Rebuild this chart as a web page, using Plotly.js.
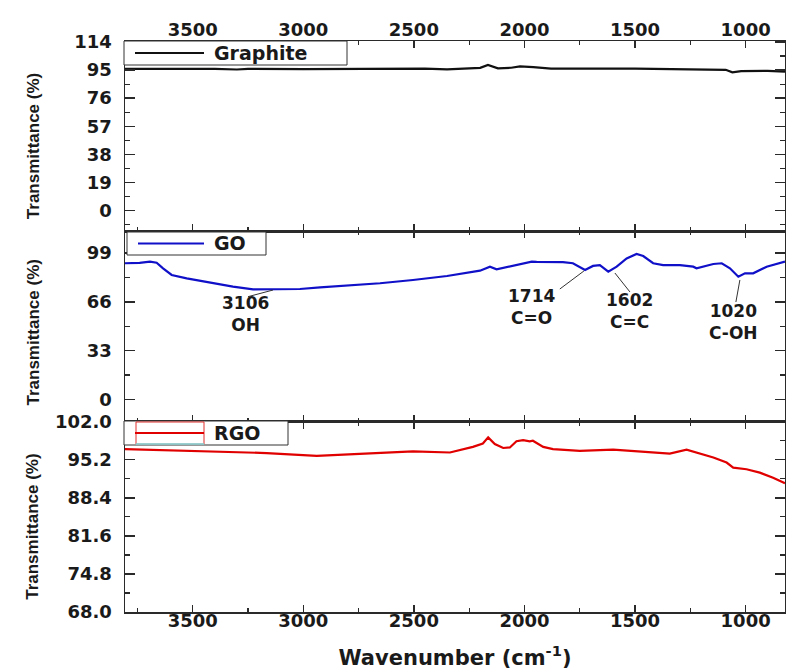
<!DOCTYPE html>
<html>
<head>
<meta charset="utf-8">
<script src="https://cdn.plot.ly/plotly-3.0.1.min.js"></script>
<style>
html, body { margin: 0; padding: 0; background: #fff; }
#chart { width: 786px; height: 670px; }
</style>
</head>
<body>
<div id="chart"></div>
<script>
// ---- Data ----
var graphiteWn = [3806, 3550, 3400, 3300, 3250, 3000, 2700, 2450, 2350, 2250, 2200, 2165, 2120, 2060, 2020, 1960, 1880, 1500, 1320, 1200, 1090, 1060, 1020, 900, 822];
var graphiteT  = [95.8, 96.0, 95.9, 95.4, 95.8, 95.7, 96.0, 96.0, 95.5, 96.0, 96.5, 98.5, 96.2, 96.6, 97.5, 97.0, 96.0, 96.0, 95.8, 95.6, 95.2, 93.5, 94.3, 94.5, 94.0];

var goWn = [3806, 3740, 3693, 3663, 3634, 3595, 3527, 3408, 3318, 3227, 3120, 3015, 2924, 2789, 2653, 2504, 2350, 2201, 2156, 2126, 2052, 1967, 1945, 1826, 1781, 1726, 1690, 1659, 1621, 1583, 1538, 1493, 1463, 1418, 1373, 1297, 1237, 1222, 1146, 1108, 1071, 1033, 1003, 966, 905, 822];
var goT  = [92.1, 92.4, 93.2, 92.5, 88.7, 84.2, 81.9, 78.6, 76.3, 74.5, 74.5, 74.7, 75.8, 77.0, 78.6, 80.8, 83.5, 87.1, 89.8, 88.0, 90.3, 93.2, 93.0, 92.9, 92.1, 87.5, 90.3, 90.9, 86.4, 89.8, 95.4, 98.4, 97.0, 92.1, 90.9, 90.9, 89.8, 88.7, 91.6, 92.1, 88.7, 83.0, 85.3, 85.3, 89.8, 93.2];

var rgoWn = [3806, 3467, 3166, 2939, 2713, 2563, 2504, 2337, 2233, 2188, 2164, 2134, 2096, 2066, 2036, 2006, 1976, 1962, 1915, 1871, 1750, 1599, 1448, 1343, 1267, 1222, 1146, 1086, 1056, 996, 936, 876, 822];
var rgoT  = [97.1, 96.7, 96.4, 95.9, 96.3, 96.5, 96.7, 96.5, 97.5, 98.1, 99.2, 98.0, 97.3, 97.4, 98.5, 98.7, 98.5, 98.6, 97.5, 97.1, 96.8, 97.0, 96.6, 96.3, 97.0, 96.5, 95.6, 94.7, 93.8, 93.5, 92.9, 92.0, 91.0];

// Peak labels on the GO spectrum
var peakLabels = ['3106<br>OH', '1714<br>C=O', '1602<br>C=C', '1020<br>C-OH'];
var peakTipWn  = [3137, 1731, 1591, 1026];
var peakTipT   = [74.0, 86.9, 85.5, 80.8];
var peakTailWn = [3250, 1840, 1523, 1044];
var peakTailT  = [69.5, 74.7, 72.7, 65.9];
var peakTextWn = [3259, 1966, 1527, 1053];
var peakTextT  = [57.8, 62.2, 59.5, 52.1];

var seriesNames = ['Graphite', 'GO', 'RGO'];
var seriesColors = ['#111111', '#1010c8', '#e00000'];

// ---- Geometry helpers (plot area in pixels) ----
var W = 786, H = 670, ML = 125, MR = 1, MT = 41, MB = 58;
var PW = W - ML - MR, PH = H - MT - MB;
function px(xp) { return (xp - ML) / PW; }
function py(yp) { return (H - MB - yp) / PH; }

// ---- Styling ----
var tickFont = {family: 'DejaVu Sans', size: 18, weight: 'bold', color: '#1a1a1a'};
var axisColor = '#2a2a2a';
var xRange = [3806, 822];

function xAxis(anchor, showLabels, side, standoff) {
  var ax = {
    anchor: anchor, side: side, range: xRange, autorange: false,
    tick0: 0, dtick: 500, ticks: 'inside', ticklen: 7, tickwidth: 1.5, tickcolor: axisColor,
    minor: {dtick: 250, ticks: 'inside', ticklen: 4, tickwidth: 1.2, tickcolor: axisColor},
    showline: true, linecolor: axisColor, linewidth: 1.5, mirror: 'ticks',
    showgrid: false, zeroline: false, showticklabels: showLabels,
    tickfont: tickFont, ticklabelstandoff: standoff
  };
  if (anchor !== 'y') ax.matches = 'x';
  return ax;
}
function yAxis(domain, range, tick0, dtick, fmt) {
  return {
    domain: domain, range: range, autorange: false, tick0: tick0, dtick: dtick,
    tickformat: fmt, ticks: 'inside', ticklen: 10, tickwidth: 1.5, tickcolor: axisColor,
    minor: {dtick: dtick / 2, ticks: 'inside', ticklen: 5, tickwidth: 1.2, tickcolor: axisColor},
    showline: true, linecolor: axisColor, linewidth: 1.5, mirror: 'ticks',
    showgrid: false, zeroline: false, tickfont: tickFont, ticklabelstandoff: 8
  };
}

var traces = [
  {x: graphiteWn, y: graphiteT, xaxis: 'x', yaxis: 'y'},
  {x: goWn, y: goT, xaxis: 'x2', yaxis: 'y2'},
  {x: rgoWn, y: rgoT, xaxis: 'x3', yaxis: 'y3'}
].map(function (t, i) {
  t.type = 'scatter'; t.mode = 'lines'; t.name = seriesNames[i];
  t.line = {color: seriesColors[i], width: 2.2};
  t.showlegend = false;
  return t;
});

var annotations = [];
var shapes = [];

// Per-panel legend boxes (box left, top, right, bottom in px), sample line, label
var legendBoxes = [
  {l: 124, t: 41, r: 347, b: 65},
  {l: 127, t: 232, r: 266, b: 255},
  {l: 124, t: 421, r: 288, b: 445}
];
legendBoxes.forEach(function (b, i) {
  var cy = (b.t + b.b) / 2;
  shapes.push({type: 'rect', xref: 'paper', yref: 'paper',
    x0: px(b.l), x1: px(b.r), y0: py(b.b), y1: py(b.t),
    fillcolor: '#ffffff', line: {color: '#333', width: 1}});
  if (i === 2) {
    // Origin-style sample frame seen in the RGO legend
    shapes.push({type: 'rect', xref: 'paper', yref: 'paper',
      x0: px(136), x1: px(204), y0: py(444), y1: py(422),
      line: {color: '#e03030', width: 1}});
    shapes.push({type: 'line', xref: 'paper', yref: 'paper',
      x0: px(136), x1: px(204), y0: py(444), y1: py(444),
      line: {color: '#7fe0e0', width: 1.5}});
  }
  shapes.push({type: 'line', xref: 'paper', yref: 'paper',
    x0: px(b.l + 11), x1: px(204), y0: py(cy), y1: py(cy),
    line: {color: seriesColors[i], width: 2.2}});
  annotations.push({text: seriesNames[i], xref: 'paper', yref: 'paper',
    x: px(212), y: py(cy), xanchor: 'left', yanchor: 'middle', showarrow: false,
    font: {family: 'DejaVu Sans', size: 19, weight: 'bold', color: '#1a1a1a'}});
});

var titleFont = {family: 'Liberation Sans, Arial, sans-serif', size: 17, weight: 'bold', color: '#1a1a1a'};
var yTitleCenters = [0.8333, 0.5, 0.1667];
var yTitleShift = [-10, -6, -10];
yTitleCenters.forEach(function (c, i) {
  annotations.push({text: 'Transmittance (%)', xref: 'paper', yref: 'paper', x: 0, y: c,
    xanchor: 'center', yanchor: 'middle', xshift: -92, yshift: yTitleShift[i], textangle: -90,
    showarrow: false, font: titleFont});
});
peakLabels.forEach(function (lab, i) {
  shapes.push({type: 'line', xref: 'x2', yref: 'y2',
    x0: peakTipWn[i], y0: peakTipT[i], x1: peakTailWn[i], y1: peakTailT[i],
    line: {color: '#333', width: 1}});
  annotations.push({xref: 'x2', yref: 'y2', x: peakTextWn[i], y: peakTextT[i], text: lab,
    showarrow: false, xanchor: 'center', yanchor: 'middle',
    font: {family: 'DejaVu Sans', size: 17, weight: 'bold', color: '#1a1a1a'}});
});

var x3 = xAxis('y3', true, 'bottom', -8);
x3.title = {text: 'Wavenumber (cm<sup>-1</sup>)', font: {family: 'DejaVu Sans', size: 21, weight: 'bold', color: '#1a1a1a'}};

var layout = {
  width: W, height: H,
  margin: {l: ML, r: MR, t: MT, b: MB},
  paper_bgcolor: '#ffffff', plot_bgcolor: '#ffffff',
  showlegend: false,
  xaxis: xAxis('y', true, 'top', -4),
  xaxis2: xAxis('y2', false, 'bottom', 0),
  xaxis3: x3,
  yaxis: yAxis([0.6667, 1], [-14.1, 114.7], 0, 19, 'd'),
  yaxis2: yAxis([0.3333, 0.6667], [-15, 113.7], 0, 33, 'd'),
  yaxis3: yAxis([0, 0.3333], [68, 102], 68, 6.8, '.1f'),
  annotations: annotations,
  shapes: shapes
};

Plotly.newPlot('chart', traces, layout, {displayModeBar: false, staticPlot: true});
</script>
</body>
</html>
